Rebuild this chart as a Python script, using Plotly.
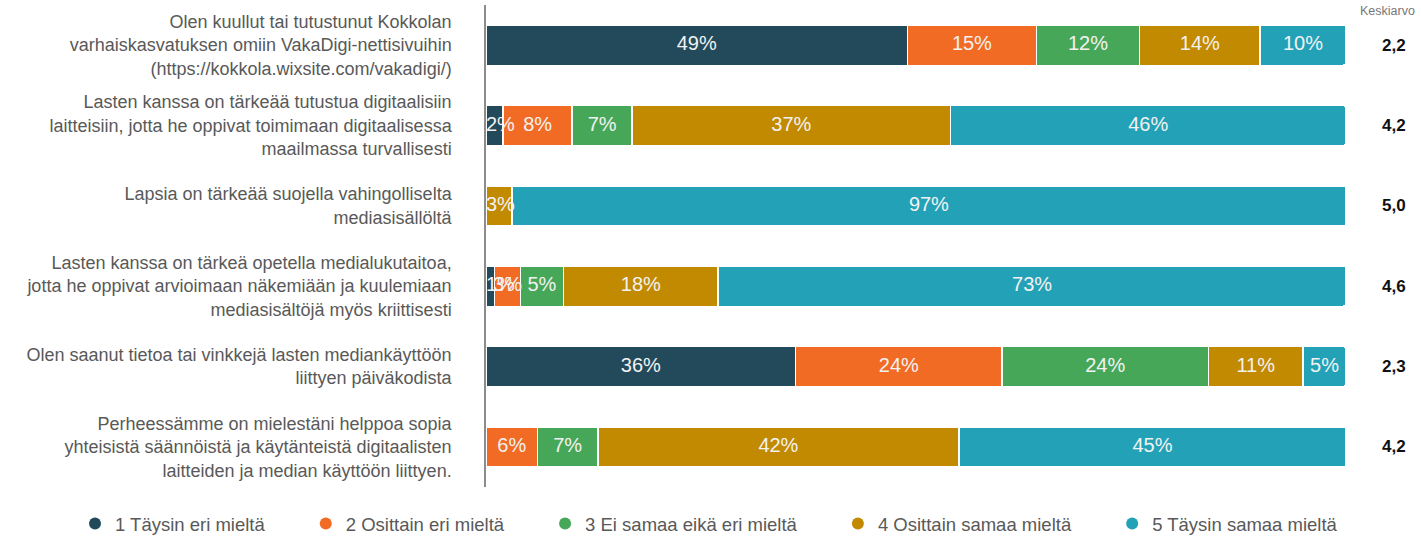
import plotly.graph_objects as go

categories = [
    "Olen kuullut tai tutustunut Kokkolan<br>varhaiskasvatuksen omiin VakaDigi-nettisivuihin<br>(https://kokkola.wixsite.com/vakadigi/)",
    "Lasten kanssa on tärkeää tutustua digitaalisiin<br>laitteisiin, jotta he oppivat toimimaan digitaalisessa<br>maailmassa turvallisesti",
    "Lapsia on tärkeää suojella vahingolliselta<br>mediasisällöltä",
    "Lasten kanssa on tärkeä opetella medialukutaitoa,<br>jotta he oppivat arvioimaan näkemiään ja kuulemiaan<br>mediasisältöjä myös kriittisesti",
    "Olen saanut tietoa tai vinkkejä lasten mediankäyttöön<br>liittyen päiväkodista",
    "Perheessämme on mielestäni helppoa sopia<br>yhteisistä säännöistä ja käytänteistä digitaalisten<br>laitteiden ja median käyttöön liittyen.",
]
series_names = [
    "1 Täysin eri mieltä",
    "2 Osittain eri mieltä",
    "3 Ei samaa eikä eri mieltä",
    "4 Osittain samaa mieltä",
    "5 Täysin samaa mieltä",
]
s1 = [49, 2, 0, 1, 36, 0]
s2 = [15, 8, 0, 3, 24, 6]
s3 = [12, 7, 0, 5, 24, 7]
s4 = [14, 37, 3, 18, 11, 42]
s5 = [10, 46, 97, 73, 5, 45]
averages = ["2,2", "4,2", "5,0", "4,6", "2,3", "4,2"]
colors = ["#224A5A", "#F26B24", "#47A758", "#C28A00", "#23A2B7"]

FONT = "Liberation Sans, Arial, sans-serif"
NBSP = "\u00a0"
all_series = [s1, s2, s3, s4, s5]

fig = go.Figure()
for name, vals, col in zip(series_names, all_series, colors):
    fig.add_trace(go.Bar(
        y=categories, x=vals, orientation="h", name=name,
        marker=dict(color=col, line=dict(color="white", width=1.5)),
        showlegend=False, hoverinfo="skip", width=0.5,
    ))

# value labels drawn on top of all bars; labels that would cross the axis start at it
HALF_LABEL = 1.7  # half of a label's width, in axis units
starts = [0] * len(categories)
for vals in all_series:
    xs, pos = [], []
    for st, v in zip(starts, vals):
        mid = st + v / 2
        if mid < HALF_LABEL:
            xs.append(max(st - 0.3, 0))
            pos.append("middle right")
        else:
            xs.append(mid)
            pos.append("middle center")
    fig.add_trace(go.Scatter(
        x=xs, y=categories, mode="text",
        text=[f"{v}%" if v > 0 else "" for v in vals],
        textposition=pos,
        textfont=dict(color="#F2F2F2", size=20, family=FONT),
        showlegend=False, hoverinfo="skip", cliponaxis=False,
    ))
    starts = [st + v for st, v in zip(starts, vals)]

for name, col in zip(series_names, colors):
    fig.add_trace(go.Scatter(
        x=[None], y=[None], mode="markers", name=name + NBSP * 7,
        marker=dict(color=col, size=18, symbol="circle"),
        showlegend=True,
    ))

for cat, avg in zip(categories, averages):
    fig.add_annotation(x=1.0558, xref="paper", y=cat, yref="y", text=f"<b>{avg}</b>",
                       showarrow=False, xanchor="center",
                       font=dict(size=17, color="#111111", family=FONT))
fig.add_annotation(x=1.0477, xref="paper", y=0.9876, yref="paper", yanchor="middle",
                   text="Keskiarvo", showarrow=False, xanchor="center",
                   font=dict(size=12.5, color="#777777", family=FONT))

fig.update_layout(
    barmode="stack",
    width=1421, height=537,
    margin=dict(l=486, r=75, t=5, b=50, autoexpand=False),
    plot_bgcolor="white", paper_bgcolor="white",
    font=dict(family=FONT, color="#595959"),
    barcornerradius=3,
    legend=dict(orientation="h", xref="paper", x=-0.4779, xanchor="left",
                yref="paper", y=-0.0768, yanchor="middle", traceorder="normal",
                font=dict(size=18.5, color="#595959"), itemsizing="constant"),
    xaxis=dict(range=[0, 100], showgrid=False, showticklabels=False, zeroline=False, fixedrange=True),
    yaxis=dict(autorange="reversed", showgrid=False, showline=True, linecolor="#8C8C8C", linewidth=1.5,
               ticks="", tickfont=dict(size=18, color="#595959"), ticklabelstandoff=29),
)
fig.write_html("out.html", config={"displayModeBar": False},
               post_script="document.body.style.margin='0';")
